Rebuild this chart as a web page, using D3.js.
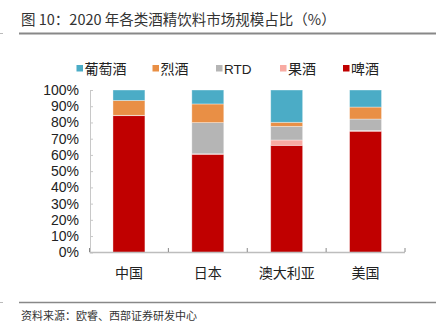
<!DOCTYPE html>
<html><head><meta charset="utf-8">
<script src="https://cdn.jsdelivr.net/npm/d3@7"></script>
<style>
body{margin:0;background:#fff;}
svg{display:block;}
</style></head>
<body>
<svg id="chart" width="436" height="329"></svg>
<script>
const categories = ["中国","日本","澳大利亚","美国"];
const seriesNames = ["啤酒","果酒","RTD","烈酒","葡萄酒"];
const beer   = [84.2, 60.4, 65.9, 74.6];
const cider  = [0.0, 0.3, 3.3, 0.4];
const rtd    = [0.2, 19.2, 8.4, 7.1];
const spirits= [9.2, 11.5, 2.5, 7.4];
const wine   = [6.4, 8.6, 19.9, 10.5];
const yTicks = [0,10,20,30,40,50,60,70,80,90,100];
const legendOrder = ["葡萄酒","烈酒","RTD","果酒","啤酒"];
const colors = {"啤酒":"#c00000","果酒":"#f8aaa2","RTD":"#b5b5b5","烈酒":"#e98f45","葡萄酒":"#4bacc6"};

const values = {"啤酒":beer,"果酒":cider,"RTD":rtd,"烈酒":spirits,"葡萄酒":wine};
const rows = categories.map((c,i)=>{const r={cat:c}; seriesNames.forEach(s=>r[s]=values[s][i]); return r;});
const stack = d3.stack().keys(seriesNames)(rows);

const svg = d3.select("#chart");
const sans = "'Liberation Sans', Arial, 'Noto Sans CJK SC', sans-serif";
const cjk = "'Noto Sans CJK SC', sans-serif";

// title
svg.append("text").attr("x",21).attr("y",25).attr("font-family",cjk).attr("font-size",14.5)
  .attr("fill","#333").text("图 10：2020 年各类酒精饮料市场规模占比（%）");
svg.append("line").attr("x1",19).attr("x2",436).attr("y1",33.5).attr("y2",33.5).attr("stroke","#888").attr("stroke-width",1.8);
svg.append("line").attr("x1",0).attr("x2",3).attr("y1",33.5).attr("y2",33.5).attr("stroke","#bbb").attr("stroke-width",1);

const x = d3.scaleBand().domain(categories).range([89.5,405]).paddingInner(0.595).paddingOuter(0.2975);
const y = d3.scaleLinear().domain([0,100]).range([252.3,90]);

// bars
const g = svg.append("g");
stack.forEach(layer=>{
  g.selectAll(null).data(layer).enter().append("rect")
    .attr("x",d=>x(d.data.cat))
    .attr("width",x.bandwidth())
    .attr("y",d=>y(d[1]))
    .attr("height",d=>Math.max(0,y(d[0])-y(d[1])))
    .attr("fill",colors[layer.key])
    .attr("stroke","#fff").attr("stroke-opacity",0.45).attr("stroke-width",0.8);
});

// y axis
const yAxis = g.append("g").attr("transform","translate(90,0)")
  .call(d3.axisRight(y).tickValues(yTicks).tickSize(3).tickFormat(""));
yAxis.select(".domain").attr("stroke","#c8c8c8");
yAxis.selectAll(".tick line").attr("stroke","#c8c8c8");
svg.append("g").selectAll("text").data(yTicks).enter().append("text")
  .attr("x",79).attr("y",d=>y(d)+5).attr("text-anchor","end")
  .attr("font-family",sans).attr("font-size",14).attr("fill","#222").text(d=>d+"%");

// x axis
const step = x.step();
const sepTicks = d3.range(categories.length+1).map(i=>89.5+i*step);
svg.append("line").attr("x1",89.5).attr("x2",405).attr("y1",252.5).attr("y2",252.5).attr("stroke","#bdbdbd").attr("stroke-width",1.5);
svg.append("g").selectAll("line").data(sepTicks).enter().append("line")
  .attr("x1",d=>d).attr("x2",d=>d).attr("y1",252).attr("y2",248).attr("stroke","#888");
svg.append("g").selectAll("text").data(categories).enter().append("text")
  .attr("x",d=>x(d)+x.bandwidth()/2).attr("y",278).attr("text-anchor","middle")
  .attr("font-family",cjk).attr("font-size",14).attr("fill","#222").text(d=>d);

// legend
const legendX = [76.5,152.5,216,280,343];
const lg = svg.append("g");
legendOrder.forEach((s,i)=>{
  lg.append("rect").attr("x",legendX[i]).attr("y",65).attr("width",6.5).attr("height",6.5).attr("fill",colors[s]);
  lg.append("text").attr("x",legendX[i]+8).attr("y",74).attr("font-family",s==="RTD"?sans:cjk)
    .attr("font-size",s==="RTD"?13.5:14).attr("fill","#222").text(s);
});

// source
svg.append("line").attr("x1",19).attr("x2",436).attr("y1",302.5).attr("y2",302.5).attr("stroke","#888").attr("stroke-width",1.5);
svg.append("line").attr("x1",0).attr("x2",3).attr("y1",302.5).attr("y2",302.5).attr("stroke","#bbb").attr("stroke-width",1);
svg.append("text").attr("x",21).attr("y",320).attr("font-family",cjk).attr("font-size",11)
  .attr("fill","#333").text("资料来源：欧睿、西部证券研发中心");
</script>
</body></html>
